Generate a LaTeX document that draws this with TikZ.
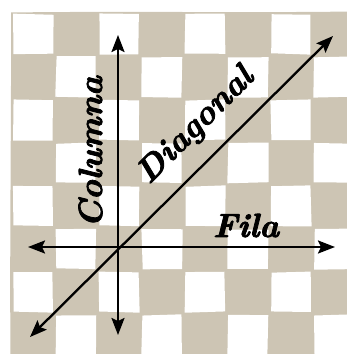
\documentclass[tikz,border=0pt]{standalone}
\usepackage{fontspec}
\newfontfamily\lblfont{lmroman10-bolditalic.otf}[AutoFakeBold=2.4]
\usetikzlibrary{arrows.meta}
\definecolor{beige}{RGB}{205,197,180}
\tikzset{
  axis/.style={line width=2.3pt, {Stealth[length=17pt,width=13pt,inset=3pt]}-{Stealth[length=17pt,width=13pt,inset=3pt]}},
  lbl/.style={font=\fontsize{33.5}{40}\lblfont\bfseries, inner sep=0pt, anchor=base},
  cell/.style={fill=white}
}
\begin{document}
\begin{tikzpicture}[x=1pt,y=-1pt]
\useasboundingbox (0,0) rectangle (347,354);
\clip (0,0) rectangle (347,354);
\fill[beige] (11,12.5) .. controls (120,11) and (250,13) .. (350,11.5) -- (350,356) -- (10.5,356) .. controls (9.5,250) and (11.5,100) .. cycle;
\pgfmathsetseed{7}
\foreach \i in {0,...,7}{
  \foreach \j in {0,...,7}{
    \pgfmathtruncatemacro\parity{mod(\i+\j,2)}
    \ifnum\parity=0
      \pgfmathsetmacro\xl{11+43*\i+2}
      \pgfmathsetmacro\xr{11+43*(\i+1)-1}
      \pgfmathsetmacro\yt{12+43*\j+2}
      \pgfmathsetmacro\yb{12+43*(\j+1)-1}
      \fill[cell] (\xl+rand*0.8,\yt+rand*0.8) -- (\xr+rand*0.8,\yt+rand*0.8)
        -- (\xr+rand*0.8,\yb+rand*0.8) -- (\xl+rand*0.8,\yb+rand*0.8) -- cycle;
    \fi
  }
}
\coordinate (vtop) at (118,35);
\coordinate (vbot) at (118,335);
\coordinate (hleft) at (28,247);
\coordinate (hright) at (335,247);
\coordinate (dlow) at (30,337);
\coordinate (dhigh) at (333,36);
\draw[axis] (vbot) -- (vtop);
\draw[axis] (hleft) -- (hright);
\draw[axis] (dlow) -- (dhigh);
\node[lbl, rotate=90] (col) at (102,152) {Columna};
\node[lbl, rotate=45] (diag) at (202,132) {Diagonal};
\node[lbl] (fila) at (246,237) {Fila};
\end{tikzpicture}
\end{document}
